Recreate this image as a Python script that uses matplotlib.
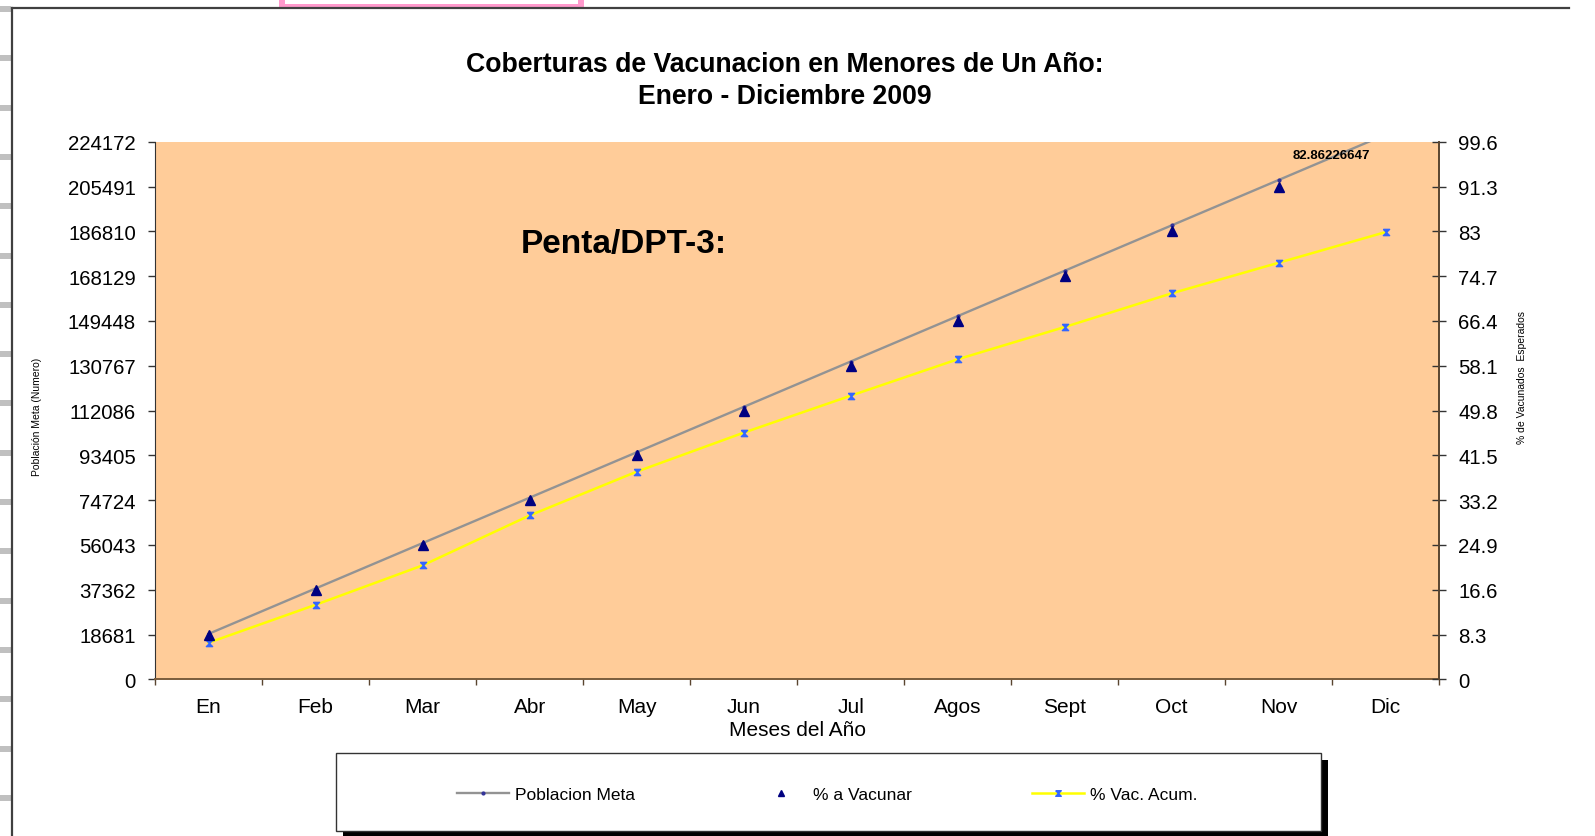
import numpy as np
import matplotlib
matplotlib.use("Agg")
import matplotlib.pyplot as plt
from matplotlib.lines import Line2D
from matplotlib.patches import Rectangle
from matplotlib.path import Path

plt.rcParams['font.family'] = ['Liberation Sans', 'DejaVu Sans']

# ---------------- data ----------------
months = ['En', 'Feb', 'Mar', 'Abr', 'May', 'Jun', 'Jul', 'Agos', 'Sept', 'Oct', 'Nov', 'Dic']
poblacion_meta = [18930, 37860, 56790, 75720, 94650, 113580, 132510, 151440,
                  170370, 189300, 208230, 227160]
pct_a_vacunar = [8.3, 16.6, 24.9, 33.2, 41.5, 49.8, 58.1, 66.4, 74.7, 83.0, 91.3, np.nan]
pct_vac_acum = [6.77, 13.8, 21.1, 30.35, 38.46, 45.69, 52.54, 59.29, 65.27, 71.51, 77.18,
                82.86226647]
left_ticks = [0, 18681, 37362, 56043, 74724, 93405, 112086, 130767, 149448, 168129,
              186810, 205491, 224172]
right_ticks = [0, 8.3, 16.6, 24.9, 33.2, 41.5, 49.8, 58.1, 66.4, 74.7, 83, 91.3, 99.6]
last_label = '82.86226647'

title = 'Coberturas de Vacunacion en Menores de Un Año:\nEnero - Diciembre 2009'
subtitle = 'Penta/DPT-3:'
xlabel = 'Meses del Año'
ylabel_left = 'Población Meta (Numero)'
ylabel_right = '% de Vacunados  Esperados'
legend_labels = ['Poblacion Meta', '% a Vacunar', '% Vac. Acum.']

W, H = 1595, 837
fig = plt.figure(figsize=(W / 100, H / 100), dpi=100)
fig.patch.set_facecolor('white')

def fx(px):
    return px / W

def fy(py):
    return 1 - py / H

# ---------- decorative sheet elements ----------
for i in range(17):
    y = 10 + i * 49.3
    fig.add_artist(Rectangle((0, fy(y + 3)), fx(11), 6 / H, transform=fig.transFigure,
                             facecolor='#c0c0c0', edgecolor='none'))
fig.add_artist(Line2D([fx(12), fx(1569)], [fy(9), fy(9)], transform=fig.transFigure,
                      color='#404040', lw=1.6))
fig.add_artist(Line2D([fx(12), fx(12)], [fy(9), fy(837)], transform=fig.transFigure,
                      color='#404040', lw=1.6))
# pink box at top
fig.add_artist(Rectangle((fx(279), fy(8)), fx(305), 8 / H, transform=fig.transFigure,
                         facecolor='white', edgecolor='none'))
for x0 in (279, 578):
    fig.add_artist(Rectangle((fx(x0), fy(7)), fx(6), 7 / H, transform=fig.transFigure,
                             facecolor='#ff99cc', edgecolor='none'))
fig.add_artist(Rectangle((fx(279), fy(7.5)), fx(305), 2.5 / H, transform=fig.transFigure,
                         facecolor='#ff99cc', edgecolor='none'))

# ---------------- axes ----------------
ax = fig.add_axes([fx(155), fy(680.3), fx(1439.3 - 155), (680.3 - 142.7) / H])
ax.set_facecolor('#ffcc99')
ax2 = ax.twinx()

x = np.arange(len(months))
ax.plot(x, poblacion_meta, color='#939393', lw=1.7, marker='o', ms=2,
        mfc='#333399', mec='#333399', zorder=3)

ax2.plot(x, pct_a_vacunar, ls='none', marker='^', ms=6.5, color='#000080', zorder=4)

hourglass = Path([(-1, 1), (1, 1), (0, 0), (1, -1), (-1, -1), (0, 0), (-1, 1)])
ax2.plot(x, pct_vac_acum, color='#ffff00', lw=1.8, marker=hourglass, ms=4.5,
         mfc='#3366ff', mec='#3366ff', zorder=3)

ax.set_xlim(-0.5, 11.5)
ax.set_ylim(0, 224172)
ax2.set_ylim(0, 99.6)

ax.set_yticks(left_ticks)
ax.set_yticklabels([str(v) for v in left_ticks])
ax2.set_yticks(right_ticks)
ax2.set_yticklabels(['%g' % v for v in right_ticks])

ax.set_xticks(np.arange(-0.5, 12, 1))
ax.set_xticklabels([])
ax.set_xticks(x, minor=True)
ax.set_xticklabels(months, minor=True)
ax.tick_params(axis='x', which='major', direction='out', length=4.5, width=1, color='#5a4530')
ax.tick_params(axis='x', which='minor', length=0, labelsize=15, pad=13)
ax.tick_params(axis='y', direction='out', length=4.7, width=1, labelsize=14.7, pad=9,
               color='#333333')
ax2.tick_params(axis='y', direction='inout', length=9.5, width=1, labelsize=14.7, pad=9,
                color='#333333')

for a in (ax, ax2):
    a.spines['top'].set_visible(False)
ax.spines['right'].set_visible(False)
ax2.spines['left'].set_visible(False)
ax2.spines['bottom'].set_visible(False)
ax.spines['left'].set_color('#333333')
ax.spines['bottom'].set_color('#7a5c3c')
ax.spines['bottom'].set_linewidth(1.4)
ax2.spines['right'].set_color('#5a4530')
ax2.spines['right'].set_linewidth(1.4)

ax.set_xlabel(xlabel, fontsize=15, labelpad=2.5)

# texts
fig.text(fx(785), fy(81), title, ha='center', va='center', fontsize=19.2,
         fontweight='bold', linespacing=1.35)
fig.text(fx(623.5), fy(244), subtitle, ha='center', va='center', fontsize=24,
         fontweight='bold')
fig.text(fx(1331), fy(155.6), last_label, ha='center', va='center', fontsize=9.5,
         fontweight='bold')
fig.text(fx(36.5), fy(417), ylabel_left, rotation=90, ha='center', va='center', fontsize=7.5)
fig.text(fx(1522), fy(378), ylabel_right, rotation=90, ha='center', va='center', fontsize=7.5)

# legend box with shadow
bx0, by0, bx1, by1 = 336, 753.5, 1320.5, 831.5
fig.add_artist(Rectangle((fx(bx0 + 7), fy(by1 + 7)), fx(bx1 - bx0), (by1 - by0) / H,
                         transform=fig.transFigure, facecolor='black', edgecolor='none'))
fig.add_artist(Rectangle((fx(bx0), fy(by1)), fx(bx1 - bx0), (by1 - by0) / H,
                         transform=fig.transFigure, facecolor='white', edgecolor='#333333',
                         lw=1))
handles = [
    Line2D([], [], color='#939393', lw=1.7, marker='o', ms=2, mfc='#333399', mec='#333399'),
    Line2D([], [], ls='none', marker='^', ms=5, color='#000080'),
    Line2D([], [], color='#ffff00', lw=1.8, marker=hourglass, ms=4, mfc='#3366ff',
           mec='#3366ff'),
]
fig.legend(handles, legend_labels, loc='center',
           bbox_to_anchor=(fx((bx0 + bx1) / 2 - 1), fy((by0 + by1) / 2 + 3)), ncol=3,
           frameon=False, fontsize=12.5, handlelength=3.0, columnspacing=6.9,
           handletextpad=0.35)

fig.savefig('out.png', dpi=100, facecolor='white')
